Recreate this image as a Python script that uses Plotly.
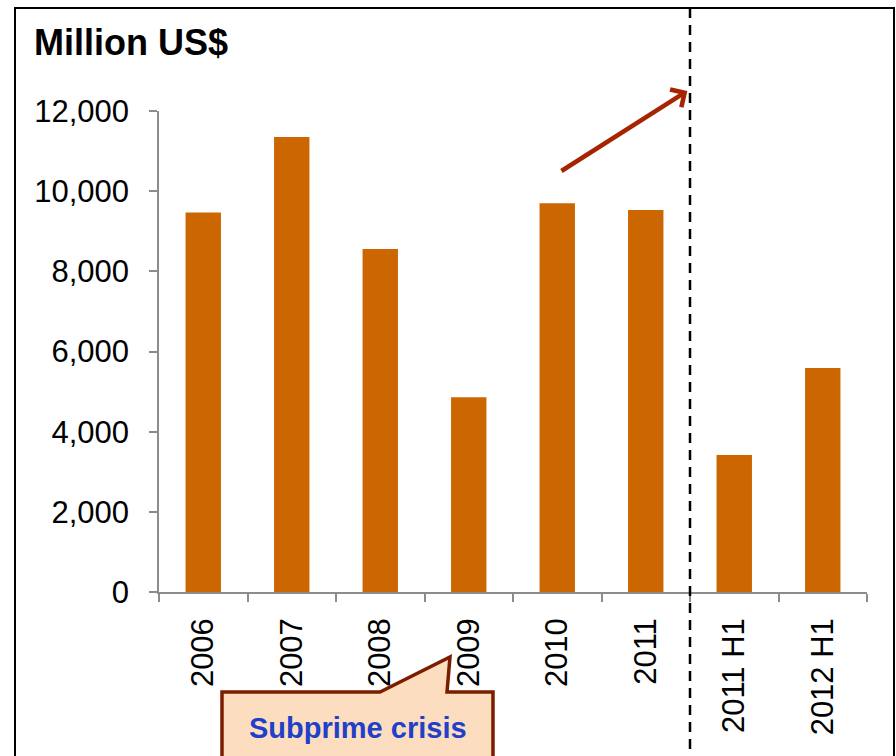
import plotly.graph_objects as go

# Annual and half-year totals, million US$
periods = ["2006", "2007", "2008", "2009", "2010", "2011", "2011 H1", "2012 H1"]
values = [9470, 11350, 8560, 4860, 9700, 9530, 3420, 5590]
y_ticks = [0, 2000, 4000, 6000, 8000, 10000, 12000]
y_tick_text = ["0", "2,000", "4,000", "6,000", "8,000", "10,000", "12,000"]

W, H = 896, 756
L, R, T, B = 159, 29, 111, 164
plot_w = W - L - R
plot_h = H - T - B


def px(x):
    return (x - L) / plot_w


def py(y):
    return (H - B - y) / plot_h


fig = go.Figure(
    go.Bar(
        x=periods,
        y=values,
        marker=dict(color="#CC6600", line=dict(width=0)),
        width=0.4,
        hoverinfo="x+y",
    )
)

font = "Arial, Liberation Sans, sans-serif"

fig.update_layout(
    width=W,
    height=H,
    margin=dict(l=L, r=R, t=T, b=B),
    paper_bgcolor="white",
    plot_bgcolor="white",
    showlegend=False,
    font=dict(family=font, color="black"),
)

fig.update_yaxes(
    range=[0, 12000],
    tickvals=y_ticks,
    ticktext=y_tick_text,
    tickfont=dict(size=31, family=font, color="black"),
    showgrid=False,
    zeroline=False,
    showline=True,
    linecolor="#8c8c8c",
    linewidth=1.5,
    ticks="outside",
    ticklen=8,
    tickcolor="#8c8c8c",
    tickwidth=1.5,
    ticklabelstandoff=14,
)

fig.update_xaxes(
    type="category",
    range=[-0.5, len(periods) - 0.5],
    tickangle=-90,
    tickfont=dict(size=31, family=font, color="black"),
    showgrid=False,
    showline=True,
    linecolor="#8c8c8c",
    linewidth=1.5,
    ticks="outside",
    tickson="boundaries",
    ticklen=8,
    tickcolor="#8c8c8c",
    tickwidth=1.5,
    ticklabelstandoff=12,
)

# Outer frame
fig.add_shape(
    type="rect", xref="paper", yref="paper",
    x0=px(15), x1=px(894), y0=py(800), y1=py(8),
    line=dict(color="black", width=2), fillcolor="rgba(0,0,0,0)", layer="above",
)

# Divider between annual and half-year figures
fig.add_shape(
    type="line", xref="x", yref="paper",
    x0=5.5, x1=5.5, y0=py(800), y1=py(8),
    line=dict(color="black", width=2.5, dash="10px,7px"), layer="above",
)

# Callout box with pointer
pts = [(222, 692), (380, 692), (450, 657), (447, 692), (493, 692), (493, 800), (222, 800)]
path = "M " + " L ".join(f"{px(x):.5f},{py(y):.5f}" for x, y in pts) + " Z"
fig.add_shape(
    type="path", xref="paper", yref="paper", path=path,
    fillcolor="#FDDDC0", line=dict(color="#7B1E00", width=3.5), layer="above",
)

fig.add_annotation(
    xref="paper", yref="paper", x=px(358), y=py(728),
    text="<b>Subprime crisis</b>", showarrow=False,
    font=dict(size=29, color="#1F40C8", family=font),
    xanchor="center", yanchor="middle",
)

# Title
fig.add_annotation(
    xref="paper", yref="paper", x=px(32), y=py(42),
    text="<b>Million US$</b>", showarrow=False,
    font=dict(size=36, color="black", family=font),
    xanchor="left", yanchor="middle",
)

# Growth arrow
fig.add_annotation(
    xref="x", yref="y", axref="x", ayref="y",
    x=5.47, y=12500, ax=4.03, ay=10480,
    text="", showarrow=True,
    arrowhead=4, arrowsize=0.9, arrowwidth=4.5, arrowcolor="#A62400",
)

fig.write_html("out.html")
